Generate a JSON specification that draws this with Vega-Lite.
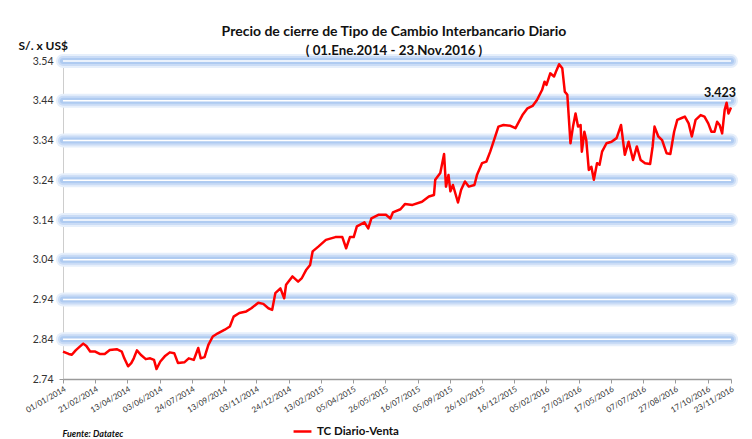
{
  "$schema": "https://vega.github.io/schema/vega-lite/v6.json",
  "autosize": "none",
  "width": 668,
  "height": 318,
  "padding": {"left": 63, "top": 61, "right": 21, "bottom": 60},
  "background": "white",
  "config": {"font": "Lato", "view": {"stroke": null}, "axis": {"labelOverlap": false, "labelBound": false}},
  "title": {
    "text": "Precio de cierre de Tipo de Cambio Interbancario  Diario",
    "subtitle": "( 01.Ene.2014 - 23.Nov.2016 )",
    "anchor": "middle",
    "font": "Lato",
    "fontSize": 14,
    "fontWeight": "bold",
    "color": "#111111",
    "subtitleFont": "Lato",
    "subtitleFontSize": 13.3,
    "subtitleFontWeight": "bold",
    "subtitleColor": "#111111",
    "subtitlePadding": 5,
    "offset": -18,
    "dx": -3
  },
  "datasets": {
    "tc": [
      {"fecha": "2014-01-01", "valor": 2.809},
      {"fecha": "2014-01-10", "valor": 2.803},
      {"fecha": "2014-01-15", "valor": 2.801},
      {"fecha": "2014-01-21", "valor": 2.812},
      {"fecha": "2014-01-28", "valor": 2.822},
      {"fecha": "2014-02-02", "valor": 2.829},
      {"fecha": "2014-02-07", "valor": 2.823},
      {"fecha": "2014-02-13", "valor": 2.809},
      {"fecha": "2014-02-21", "valor": 2.809},
      {"fecha": "2014-02-28", "valor": 2.803},
      {"fecha": "2014-03-08", "valor": 2.803},
      {"fecha": "2014-03-16", "valor": 2.813},
      {"fecha": "2014-03-27", "valor": 2.815},
      {"fecha": "2014-04-04", "valor": 2.809},
      {"fecha": "2014-04-08", "valor": 2.792},
      {"fecha": "2014-04-14", "valor": 2.772},
      {"fecha": "2014-04-19", "valor": 2.780},
      {"fecha": "2014-04-23", "valor": 2.792},
      {"fecha": "2014-04-28", "valor": 2.812},
      {"fecha": "2014-05-04", "valor": 2.801},
      {"fecha": "2014-05-12", "valor": 2.790},
      {"fecha": "2014-05-19", "valor": 2.792},
      {"fecha": "2014-05-25", "valor": 2.788},
      {"fecha": "2014-05-29", "valor": 2.765},
      {"fecha": "2014-06-04", "valor": 2.784},
      {"fecha": "2014-06-11", "valor": 2.797},
      {"fecha": "2014-06-19", "valor": 2.807},
      {"fecha": "2014-06-26", "valor": 2.805},
      {"fecha": "2014-07-02", "valor": 2.780},
      {"fecha": "2014-07-12", "valor": 2.782},
      {"fecha": "2014-07-19", "valor": 2.792},
      {"fecha": "2014-07-27", "valor": 2.788},
      {"fecha": "2014-08-03", "valor": 2.818},
      {"fecha": "2014-08-07", "valor": 2.792},
      {"fecha": "2014-08-13", "valor": 2.795},
      {"fecha": "2014-08-19", "valor": 2.826},
      {"fecha": "2014-08-26", "valor": 2.847},
      {"fecha": "2014-09-03", "valor": 2.855},
      {"fecha": "2014-09-14", "valor": 2.864},
      {"fecha": "2014-09-22", "valor": 2.872},
      {"fecha": "2014-09-28", "valor": 2.897},
      {"fecha": "2014-10-07", "valor": 2.906},
      {"fecha": "2014-10-18", "valor": 2.910},
      {"fecha": "2014-10-26", "valor": 2.918},
      {"fecha": "2014-11-06", "valor": 2.932},
      {"fecha": "2014-11-14", "valor": 2.929},
      {"fecha": "2014-11-22", "valor": 2.918},
      {"fecha": "2014-11-28", "valor": 2.914},
      {"fecha": "2014-12-03", "valor": 2.956},
      {"fecha": "2014-12-11", "valor": 2.968},
      {"fecha": "2014-12-17", "valor": 2.943},
      {"fecha": "2014-12-20", "valor": 2.977},
      {"fecha": "2014-12-30", "valor": 2.998},
      {"fecha": "2015-01-08", "valor": 2.985},
      {"fecha": "2015-01-14", "valor": 2.994},
      {"fecha": "2015-01-21", "valor": 3.015},
      {"fecha": "2015-01-27", "valor": 3.027},
      {"fecha": "2015-01-31", "valor": 3.061},
      {"fecha": "2015-02-09", "valor": 3.073},
      {"fecha": "2015-02-21", "valor": 3.090},
      {"fecha": "2015-03-08", "valor": 3.097},
      {"fecha": "2015-03-19", "valor": 3.097},
      {"fecha": "2015-03-25", "valor": 3.069},
      {"fecha": "2015-03-31", "valor": 3.097},
      {"fecha": "2015-04-06", "valor": 3.097},
      {"fecha": "2015-04-11", "valor": 3.124},
      {"fecha": "2015-04-23", "valor": 3.134},
      {"fecha": "2015-04-29", "valor": 3.119},
      {"fecha": "2015-05-04", "valor": 3.144},
      {"fecha": "2015-05-15", "valor": 3.153},
      {"fecha": "2015-05-27", "valor": 3.153},
      {"fecha": "2015-06-03", "valor": 3.144},
      {"fecha": "2015-06-07", "valor": 3.159},
      {"fecha": "2015-06-19", "valor": 3.167},
      {"fecha": "2015-06-26", "valor": 3.180},
      {"fecha": "2015-07-08", "valor": 3.178},
      {"fecha": "2015-07-23", "valor": 3.186},
      {"fecha": "2015-08-03", "valor": 3.199},
      {"fecha": "2015-08-11", "valor": 3.203},
      {"fecha": "2015-08-13", "valor": 3.241},
      {"fecha": "2015-08-21", "valor": 3.258},
      {"fecha": "2015-08-27", "valor": 3.306},
      {"fecha": "2015-08-30", "valor": 3.224},
      {"fecha": "2015-09-03", "valor": 3.253},
      {"fecha": "2015-09-06", "valor": 3.212},
      {"fecha": "2015-09-10", "valor": 3.228},
      {"fecha": "2015-09-18", "valor": 3.184},
      {"fecha": "2015-09-23", "valor": 3.216},
      {"fecha": "2015-09-29", "valor": 3.237},
      {"fecha": "2015-10-05", "valor": 3.224},
      {"fecha": "2015-10-14", "valor": 3.228},
      {"fecha": "2015-10-18", "valor": 3.253},
      {"fecha": "2015-10-26", "valor": 3.283},
      {"fecha": "2015-11-02", "valor": 3.287},
      {"fecha": "2015-11-08", "valor": 3.312},
      {"fecha": "2015-11-14", "valor": 3.341},
      {"fecha": "2015-11-21", "valor": 3.375},
      {"fecha": "2015-11-29", "valor": 3.379},
      {"fecha": "2015-12-10", "valor": 3.377},
      {"fecha": "2015-12-18", "valor": 3.371},
      {"fecha": "2015-12-22", "valor": 3.383},
      {"fecha": "2015-12-29", "valor": 3.404},
      {"fecha": "2016-01-06", "valor": 3.421},
      {"fecha": "2016-01-14", "valor": 3.427},
      {"fecha": "2016-01-21", "valor": 3.442},
      {"fecha": "2016-01-29", "valor": 3.467},
      {"fecha": "2016-02-02", "valor": 3.488},
      {"fecha": "2016-02-05", "valor": 3.480},
      {"fecha": "2016-02-11", "valor": 3.509},
      {"fecha": "2016-02-17", "valor": 3.501},
      {"fecha": "2016-02-21", "valor": 3.517},
      {"fecha": "2016-02-25", "valor": 3.532},
      {"fecha": "2016-03-01", "valor": 3.522},
      {"fecha": "2016-03-05", "valor": 3.463},
      {"fecha": "2016-03-09", "valor": 3.455},
      {"fecha": "2016-03-14", "valor": 3.333},
      {"fecha": "2016-03-18", "valor": 3.375},
      {"fecha": "2016-03-22", "valor": 3.408},
      {"fecha": "2016-03-26", "valor": 3.375},
      {"fecha": "2016-03-30", "valor": 3.379},
      {"fecha": "2016-04-01", "valor": 3.312},
      {"fecha": "2016-04-05", "valor": 3.362},
      {"fecha": "2016-04-08", "valor": 3.341},
      {"fecha": "2016-04-12", "valor": 3.266},
      {"fecha": "2016-04-16", "valor": 3.274},
      {"fecha": "2016-04-20", "valor": 3.241},
      {"fecha": "2016-04-25", "valor": 3.283},
      {"fecha": "2016-04-29", "valor": 3.279},
      {"fecha": "2016-05-03", "valor": 3.312},
      {"fecha": "2016-05-10", "valor": 3.333},
      {"fecha": "2016-05-18", "valor": 3.337},
      {"fecha": "2016-05-26", "valor": 3.346},
      {"fecha": "2016-06-02", "valor": 3.379},
      {"fecha": "2016-06-08", "valor": 3.304},
      {"fecha": "2016-06-14", "valor": 3.337},
      {"fecha": "2016-06-21", "valor": 3.291},
      {"fecha": "2016-06-27", "valor": 3.325},
      {"fecha": "2016-07-03", "valor": 3.291},
      {"fecha": "2016-07-10", "valor": 3.283},
      {"fecha": "2016-07-18", "valor": 3.281},
      {"fecha": "2016-07-22", "valor": 3.325},
      {"fecha": "2016-07-25", "valor": 3.375},
      {"fecha": "2016-07-31", "valor": 3.350},
      {"fecha": "2016-08-06", "valor": 3.341},
      {"fecha": "2016-08-13", "valor": 3.308},
      {"fecha": "2016-08-19", "valor": 3.306},
      {"fecha": "2016-08-25", "valor": 3.362},
      {"fecha": "2016-08-30", "valor": 3.392},
      {"fecha": "2016-09-05", "valor": 3.396},
      {"fecha": "2016-09-11", "valor": 3.400},
      {"fecha": "2016-09-17", "valor": 3.383},
      {"fecha": "2016-09-22", "valor": 3.350},
      {"fecha": "2016-09-28", "valor": 3.392},
      {"fecha": "2016-10-06", "valor": 3.404},
      {"fecha": "2016-10-12", "valor": 3.400},
      {"fecha": "2016-10-18", "valor": 3.383},
      {"fecha": "2016-10-23", "valor": 3.362},
      {"fecha": "2016-10-28", "valor": 3.362},
      {"fecha": "2016-11-01", "valor": 3.387},
      {"fecha": "2016-11-05", "valor": 3.379},
      {"fecha": "2016-11-09", "valor": 3.358},
      {"fecha": "2016-11-13", "valor": 3.417},
      {"fecha": "2016-11-16", "valor": 3.435},
      {"fecha": "2016-11-19", "valor": 3.408},
      {"fecha": "2016-11-23", "valor": 3.423}
    ],
    "grid": [
      {"nivel": 2.84}, {"nivel": 2.94}, {"nivel": 3.04}, {"nivel": 3.14},
      {"nivel": 3.24}, {"nivel": 3.34}, {"nivel": 3.44}, {"nivel": 3.54}
    ]
  },
  "layer": [
    {
      "data": {"name": "grid"},
      "mark": {"type": "rule", "strokeWidth": 14, "color": "#e6effb", "strokeCap": "round"},
      "encoding": {"y": {"field": "nivel", "type": "quantitative", "scale": {"domain": [2.74, 3.54], "nice": false, "zero": false}}}
    },
    {
      "data": {"name": "grid"},
      "mark": {"type": "rule", "strokeWidth": 10, "color": "#cadcf6", "strokeCap": "round"},
      "encoding": {"y": {"field": "nivel", "type": "quantitative"}}
    },
    {
      "data": {"name": "grid"},
      "mark": {"type": "rule", "strokeWidth": 6, "color": "#afcbf1", "strokeCap": "round"},
      "encoding": {"y": {"field": "nivel", "type": "quantitative"}}
    },
    {
      "data": {"name": "grid"},
      "mark": {"type": "rule", "strokeWidth": 1.5, "color": "#ffffff"},
      "encoding": {"y": {"field": "nivel", "type": "quantitative"}}
    },
    {
      "data": {"name": "tc"},
      "mark": {"type": "line", "strokeWidth": 2.5, "strokeJoin": "round"},
      "encoding": {
        "x": {
          "field": "fecha",
          "type": "temporal",
          "scale": {"type": "utc", "domain": [{"year": 2014, "month": 1, "date": 1, "utc": true}, {"year": 2016, "month": 11, "date": 23, "utc": true}]},
          "axis": {
            "title": "Fuente: Datatec",
            "titleFont": "Lato",
            "titleFontSize": 9,
            "titleFontStyle": "italic",
            "titleFontWeight": "bold",
            "titleColor": "#111111",
            "titleAnchor": "start",
            "titleAlign": "left",
            "titleBaseline": "alphabetic",
            "titleX": -1,
            "titleY": 57,
            "tickCount": 40,
            "values": [
              {"year": 2014, "month": 1, "date": 1, "utc": true},
              {"year": 2014, "month": 2, "date": 21, "utc": true},
              {"year": 2014, "month": 4, "date": 13, "utc": true},
              {"year": 2014, "month": 6, "date": 3, "utc": true},
              {"year": 2014, "month": 7, "date": 24, "utc": true},
              {"year": 2014, "month": 9, "date": 13, "utc": true},
              {"year": 2014, "month": 11, "date": 3, "utc": true},
              {"year": 2014, "month": 12, "date": 24, "utc": true},
              {"year": 2015, "month": 2, "date": 13, "utc": true},
              {"year": 2015, "month": 4, "date": 5, "utc": true},
              {"year": 2015, "month": 5, "date": 26, "utc": true},
              {"year": 2015, "month": 7, "date": 16, "utc": true},
              {"year": 2015, "month": 9, "date": 5, "utc": true},
              {"year": 2015, "month": 10, "date": 26, "utc": true},
              {"year": 2015, "month": 12, "date": 16, "utc": true},
              {"year": 2016, "month": 2, "date": 5, "utc": true},
              {"year": 2016, "month": 3, "date": 27, "utc": true},
              {"year": 2016, "month": 5, "date": 17, "utc": true},
              {"year": 2016, "month": 7, "date": 7, "utc": true},
              {"year": 2016, "month": 8, "date": 27, "utc": true},
              {"year": 2016, "month": 10, "date": 17, "utc": true},
              {"year": 2016, "month": 11, "date": 23, "utc": true}
            ],
            "format": "%d/%m/%Y",
            "labelAngle": -30,
            "labelAlign": "right",
            "labelBaseline": "top",
            "labelFont": "Lato",
            "labelFontSize": 8,
            "labelColor": "#333333",
            "labelPadding": 2,
            "labelOverlap": false,
            "labelFlush": false,
            "grid": false,
            "domainColor": "#9a9a9a",
            "domainWidth": 1.5,
            "tickColor": "#9a9a9a",
            "tickSize": 4
          }
        },
        "y": {
          "field": "valor",
          "type": "quantitative",
          "axis": {
            "title": "S/. x US$",
            "titleAngle": 0,
            "titleFont": "Lato",
            "titleFontSize": 12,
            "titleFontWeight": "bold",
            "titleColor": "#111111",
            "titleAlign": "left",
            "titleBaseline": "alphabetic",
            "titleX": -45,
            "titleY": -12,
            "tickCount": 20,
            "values": [2.74, 2.84, 2.94, 3.04, 3.14, 3.24, 3.34, 3.44, 3.54],
            "format": ".2f",
            "labelFont": "Lato",
            "labelFontSize": 10.5,
            "labelColor": "#333333",
            "labelPadding": 6,
            "labelOverlap": false,
            "grid": false,
            "domainColor": "#9a9a9a",
            "domainDash": [1, 1],
            "tickColor": "#9a9a9a",
            "tickSize": 4
          }
        },
        "color": {
          "datum": "TC Diario-Venta",
          "scale": {"range": ["#ff0000"]},
          "legend": {
            "title": null,
            "orient": "none",
            "legendX": 229,
            "legendY": 360,
            "symbolType": "stroke",
            "symbolStrokeWidth": 2.5,
            "symbolSize": 320,
            "labelFont": "Lato",
            "labelFontSize": 11.5,
            "labelFontWeight": "bold",
            "labelColor": "#111111"
          }
        }
      }
    },
    {
      "data": {"name": "tc"},
      "transform": [{"filter": "utcyear(datum.fecha) == 2016 && utcmonth(datum.fecha) == 10 && utcdate(datum.fecha) == 23"}],
      "mark": {"type": "text", "align": "right", "baseline": "alphabetic", "dx": 5, "dy": -11, "font": "Lato", "fontSize": 12.5, "fontWeight": "bold", "color": "#111111"},
      "encoding": {
        "x": {"field": "fecha", "type": "temporal"},
        "y": {"field": "valor", "type": "quantitative"},
        "text": {"field": "valor", "type": "quantitative", "format": ".3f"}
      }
    }
  ]
}
